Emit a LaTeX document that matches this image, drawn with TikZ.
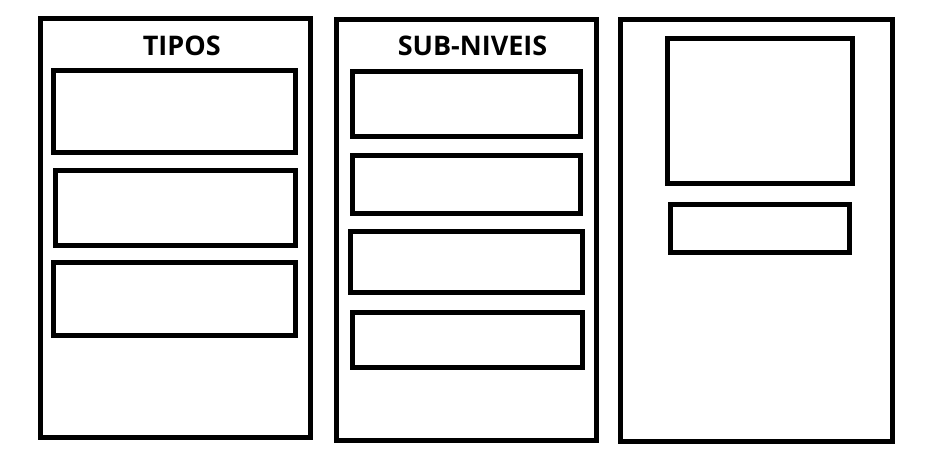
\documentclass[tikz,border=0pt]{standalone}
\usepackage{fontspec}
\setmainfont{Open Sans}
\begin{document}
\begin{tikzpicture}[x=1pt,y=-1pt,
  box/.style={draw=black, line width=5pt, fill=none, inner sep=0pt, rectangle},
  title/.style={inner sep=0pt, font=\fontsize{27}{28}\selectfont\bfseries}]
\useasboundingbox[fill=white] (0,0) rectangle (949,460);
% panel 1
\node[box, minimum width=270pt, minimum height=418.5pt] (p1) at (175,228.25) {};
\node[title] (t1) at (181.7,45.8) {TIPOS};
\node[box, minimum width=242.5pt, minimum height=82pt] (p1a) at (174.25,111) {};
\node[box, minimum width=240pt, minimum height=75pt] (p1b) at (175,207.5) {};
\node[box, minimum width=241.5pt, minimum height=72.5pt] (p1c) at (174.25,298.75) {};
% panel 2
\node[box, minimum width=260pt, minimum height=420pt] (p2) at (466,230) {};
\node[title] (t2) at (472.5,46.3) {SUB-NIVEIS};
\node[box, minimum width=228pt, minimum height=65.5pt] (p2a) at (466,103.75) {};
\node[box, minimum width=228pt, minimum height=58pt] (p2b) at (466,184) {};
\node[box, minimum width=232.5pt, minimum height=61.5pt] (p2c) at (466.25,261.75) {};
\node[box, minimum width=230.5pt, minimum height=55.5pt] (p2d) at (467.25,339.75) {};
% panel 3
\node[box, minimum width=272.5pt, minimum height=421.5pt] (p3) at (756.25,230.75) {};
\node[box, minimum width=185pt, minimum height=144.5pt] (p3a) at (760,110.75) {};
\node[box, minimum width=179pt, minimum height=48pt] (p3b) at (759.5,228) {};
\end{tikzpicture}
\end{document}
